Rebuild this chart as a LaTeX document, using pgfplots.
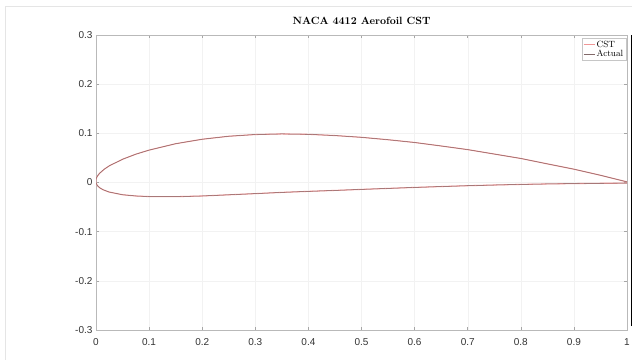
\documentclass[border=0pt]{standalone}
\usepackage{fontspec}
\usepackage{pgfplots}
\usepackage{pgfplotstable}
\pgfplotsset{compat=1.18}
\newfontfamily\helv{Liberation Sans}
\definecolor{cstcol}{RGB}{240,150,150}
\definecolor{actcol}{RGB}{130,105,105}
\definecolor{ticktxt}{RGB}{50,50,50}

\pgfplotstableread{
x y
1.0000 0.0013
0.9500 0.0147
0.9000 0.0271
0.8500 0.0379
0.8000 0.0489
0.7500 0.0579
0.7000 0.0669
0.6500 0.0743
0.6000 0.0814
0.5500 0.0870
0.5000 0.0919
0.4500 0.0955
0.4000 0.0980
0.3500 0.0988
0.3000 0.0976
0.2500 0.0941
0.2000 0.0880
0.1500 0.0789
0.1000 0.0659
0.0750 0.0576
0.0500 0.0473
0.0250 0.0339
0.0156 0.0271
0.0067 0.0187
0.0026 0.0130
0.0008 0.0090
-0.0001 0.0057
-0.0003 0.0028
0.0000 0.0000
0.0008 -0.0027
0.0021 -0.0053
0.0042 -0.0081
0.0074 -0.0110
0.0133 -0.0147
0.0244 -0.0193
0.0500 -0.0249
0.0750 -0.0274
0.1000 -0.0286
0.1500 -0.0288
0.2000 -0.0274
0.2500 -0.0250
0.3000 -0.0226
0.3500 -0.0201
0.4000 -0.0180
0.4500 -0.0161
0.5000 -0.0140
0.5500 -0.0120
0.6000 -0.0100
0.6500 -0.0082
0.7000 -0.0065
0.7500 -0.0051
0.8000 -0.0039
0.8500 -0.0029
0.9000 -0.0022
0.9500 -0.0016
1.0000 -0.0013
}\naca

\begin{document}
\begin{tikzpicture}
\useasboundingbox (0,0) rectangle (632pt,360pt);
\draw[gray!20, line width=0.8pt] (5pt,0pt) -- (5pt,354pt) -- (632pt,354pt);
\begin{axis}[
  at={(96pt,30pt)}, anchor=south west,
  scale only axis, width=531pt, height=295pt,
  xmin=0, xmax=1, ymin=-0.3, ymax=0.3,
  xtick={0,0.1,...,1.0}, ytick={-0.3,-0.2,...,0.31},
  grid=major, major grid style={gray!10, line width=0.4pt},
  axis line style={gray!55, line width=0.5pt},
  tick style={gray!70, line width=0.5pt}, tick align=inside, major tick length=3pt,
  /pgf/number format/assume math mode=true,
  /pgf/number format/fixed, /pgf/number format/precision=2,
  tick label style={font=\helv\fontsize{10}{12}\selectfont, text=ticktxt},
  xticklabel style={yshift=-5pt},
  title={\textbf{NACA 4412 Aerofoil CST}},
  title style={font=\fontsize{10.5}{12}\selectfont, at={(0.5,1)}, anchor=base, yshift=5pt},
  legend style={at={(1,1)}, anchor=north east, xshift=-1pt, yshift=-3pt,
    draw=gray!45, line width=0.4pt, font=\fontsize{9}{9}\selectfont,
    inner sep=1pt, row sep=-1.5pt,
    nodes={inner sep=1.5pt}},
  legend cell align=left,
  legend image code/.code={\draw[#1] (0pt,0pt) -- (11pt,0pt);},
]
\addplot[draw=cstcol, line width=1.1pt] table[x=x,y=y] {\naca};
\addlegendentry{CST}
\addplot[draw=actcol, line width=0.45pt] table[x=x,y=y] {\naca};
\addlegendentry{Actual}
\end{axis}
\draw[black, line width=1pt] (631pt,34pt) -- (631pt,325pt);
\end{tikzpicture}
\end{document}
